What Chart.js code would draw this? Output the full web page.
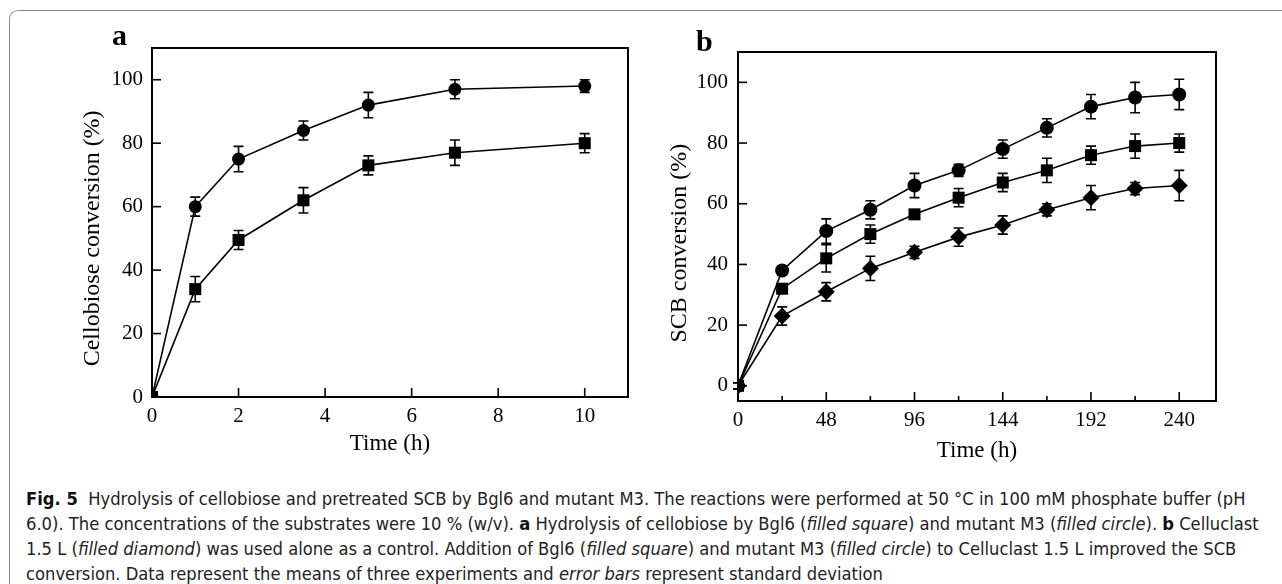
<!DOCTYPE html>
<html>
<head>
<meta charset="utf-8">
<script src="https://cdn.jsdelivr.net/npm/chart.js@4.4.1/dist/chart.umd.min.js"></script>
<style>
  html, body { margin:0; padding:0; background:#fff; width:1282px; height:584px; overflow:hidden; }
  #frame { position:absolute; left:9px; top:10px; width:1400px; height:700px; border-left:1.5px solid #8a8a8a; border-top:1.5px solid #8a8a8a; border-top-left-radius:9px; }
  .panel { position:absolute; top:0; }
  .plabel { position:absolute; font-family:"Liberation Serif", serif; font-weight:bold; font-size:30px; color:#000; }
  #caption { position:absolute; left:26px; top:486px; font-family:"Liberation Sans Narrow","DejaVu Sans Condensed",sans-serif; font-size:18.2px; line-height:25px; color:#222; white-space:nowrap; }
  #caption b { font-weight:bold; color:#111; }
</style>
</head>
<body>
<div id="frame"></div>
<div class="panel" style="left:0px;"><canvas id="ca" width="640" height="460" style="width:640px;height:460px;"></canvas></div>
<div class="panel" style="left:640px;"><canvas id="cb" width="642" height="470" style="width:642px;height:470px;"></canvas></div>
<div class="plabel" style="left:112px; top:18px;">a</div>
<div class="plabel" style="left:696px; top:24px;">b</div>
<div id="caption">
<div><b>Fig. 5</b>&nbsp; Hydrolysis of cellobiose and pretreated SCB by Bgl6 and mutant M3. The reactions were performed at 50 °C in 100 mM phosphate buffer (pH</div>
<div>6.0). The concentrations of the substrates were 10 % (w/v). <b>a</b> Hydrolysis of cellobiose by Bgl6 (<i>filled square</i>) and mutant M3 (<i>filled circle</i>). <b>b</b> Celluclast</div>
<div>1.5 L (<i>filled diamond</i>) was used alone as a control. Addition of Bgl6 (<i>filled square</i>) and mutant M3 (<i>filled circle</i>) to Celluclast 1.5 L improved the SCB</div>
<div>conversion. Data represent the means of three experiments and <i>error bars</i> represent standard deviation</div>
</div>
<script>
// ---- Panel a data ----
const timeA = [0, 1, 2, 3.5, 5, 7, 10];
const m3A = [0, 60, 75, 84, 92, 97, 98];
const m3AErr = [0, 3, 4, 3, 4, 3, 2];
const bgl6A = [0, 34, 49.5, 62, 73, 77, 80];
const bgl6AErr = [0, 4, 3, 4, 3, 4, 3];
const xTicksA = [0, 2, 4, 6, 8, 10];
const xLabelsA = ['0', '2', '4', '6', '8', '10'];
const yTicksA = [0, 20, 40, 60, 80, 100];
const yLabelsA = ['0', '20', '40', '60', '80', '100'];

// ---- Panel b data ----
const timeB = [0, 24, 48, 72, 96, 120, 144, 168, 192, 216, 240];
const m3B = [0, 38, 51, 58, 66, 71, 78, 85, 92, 95, 96];
const m3BErr = [1, 1.5, 4, 3, 4, 2, 3, 3, 4, 5, 5];
const bgl6B = [0, 32, 42, 50, 56.5, 62, 67, 71, 76, 79, 80];
const bgl6BErr = [1, 1.5, 4.5, 3, 1.5, 3, 3, 4, 3, 4, 3];
const cellB = [0, 23, 31, 38.7, 44, 49, 53, 58, 62, 65, 66];
const cellBErr = [1, 3, 3, 4, 2, 3, 3, 2, 4, 2, 5];
const xTicksB = [0, 24, 48, 72, 96, 120, 144, 168, 192, 216, 240];
const xLabelsB = ['0', '', '48', '', '96', '', '144', '', '192', '', '240'];
const yTicksB = [0, 20, 40, 60, 80, 100];
const yLabelsB = ['0', '20', '40', '60', '80', '100'];

const FONT = 'Liberation Serif';

function pts(xs, ys) { return xs.map((x, i) => ({ x: x, y: ys[i] })); }

function ds(xs, ys, errs, style, radius) {
  return {
    data: pts(xs, ys), errors: errs,
    borderColor: '#000', borderWidth: 1.6,
    pointStyle: style, pointRadius: radius, pointHoverRadius: radius,
    pointBackgroundColor: '#000', pointBorderColor: '#000', pointBorderWidth: 0,
    tension: 0, fill: false
  };
}

const errorBars = {
  id: 'errorBars',
  afterDatasetsDraw(chart) {
    const ctx = chart.ctx, ys = chart.scales.y;
    ctx.save();
    ctx.strokeStyle = '#000'; ctx.lineWidth = 1.6;
    chart.data.datasets.forEach((d, di) => {
      const meta = chart.getDatasetMeta(di);
      meta.data.forEach((el, i) => {
        const e = d.errors[i]; if (!e) return;
        const v = d.data[i].y;
        const y1 = ys.getPixelForValue(v + e), y2 = ys.getPixelForValue(v - e);
        const x = el.x, cap = 5;
        ctx.beginPath();
        ctx.moveTo(x, y1); ctx.lineTo(x, y2);
        ctx.moveTo(x - cap, y1); ctx.lineTo(x + cap, y1);
        ctx.moveTo(x - cap, y2); ctx.lineTo(x + cap, y2);
        ctx.stroke();
      });
    });
    ctx.restore();
  }
};

const frameTicks = {
  id: 'frameTicks',
  afterDraw(chart, args, opts) {
    const ctx = chart.ctx, a = chart.chartArea;
    const xs = chart.scales.x, ys = chart.scales.y;
    ctx.save();
    ctx.strokeStyle = '#000';
    ctx.lineWidth = 1.6;
    xs.ticks.forEach(t => {
      const px = xs.getPixelForValue(t.value);
      const len = (opts.xMajor && t.value % opts.xMajor !== 0) ? 5 : 9;
      ctx.beginPath(); ctx.moveTo(px, a.bottom); ctx.lineTo(px, a.bottom - len); ctx.stroke();
    });
    ys.ticks.forEach(t => {
      const py = ys.getPixelForValue(t.value);
      ctx.beginPath(); ctx.moveTo(a.left, py); ctx.lineTo(a.left + 9, py); ctx.stroke();
    });
    ctx.lineWidth = 2;
    ctx.strokeRect(a.left, a.top, a.right - a.left, a.bottom - a.top);
    // y-axis title
    ctx.fillStyle = '#000';
    ctx.font = '24px "' + FONT + '"';
    ctx.textAlign = 'center';
    ctx.textBaseline = 'middle';
    ctx.translate(opts.titleX, ys.getPixelForValue(opts.titleAt));
    ctx.rotate(-Math.PI / 2);
    ctx.fillText(opts.title, 0, 0);
    ctx.restore();
  }
};

function makeChart(id, datasets, cfg) {
  return new Chart(document.getElementById(id), {
    type: 'line',
    data: { datasets: datasets },
    plugins: [errorBars, frameTicks],
    options: {
      responsive: false, animation: false, events: [],
      layout: { padding: cfg.padding },
      plugins: { legend: { display: false }, tooltip: { enabled: false },
                 frameTicks: { xMajor: cfg.xMajor, title: cfg.yTitle, titleX: cfg.yTitleX, titleAt: cfg.yTitleAt } },
      scales: {
        x: {
          type: 'linear', min: cfg.xMin, max: cfg.xMax,
          grid: { display: false, drawTicks: false }, border: { display: false },
          afterBuildTicks: s => { s.ticks = cfg.xTicks.map(v => ({ value: v })); },
          afterFit: s => { s.height = cfg.xH; },
          ticks: { autoSkip: false, maxRotation: 0, padding: 7, color: '#000', font: { family: FONT, size: 21 },
                   callback: (v, i) => cfg.xLabels[i] },
          title: { display: true, text: 'Time (h)', color: '#000', font: { family: FONT, size: 23 }, padding: { top: 0, bottom: cfg.xTitlePad } }
        },
        y: {
          type: 'linear', min: cfg.yMin, max: cfg.yMax,
          grid: { display: false, drawTicks: false }, border: { display: false },
          afterBuildTicks: s => { s.ticks = cfg.yTicks.map(v => ({ value: v })); },
          afterFit: s => { s.width = cfg.yW; },
          ticks: { autoSkip: false, padding: cfg.yTickPad, color: '#000', font: { family: FONT, size: 21 },
                   callback: (v, i) => cfg.yLabels[i] },
          title: { display: false }
        }
      }
    }
  });
}

makeChart('ca', [
  ds(timeA, m3A, m3AErr, 'circle', 6.5),
  ds(timeA, bgl6A, bgl6AErr, 'rect', 8.5)
], {
  padding: { left: 0, top: 48, right: 12, bottom: 0 },
  xMin: 0, xMax: 11, yMin: 0, yMax: 110,
  xTicks: xTicksA, xLabels: xLabelsA, yTicks: yTicksA, yLabels: yLabelsA,
  xH: 63, yW: 152, yTickPad: 9, xTitlePad: 2,
  yTitle: 'Cellobiose conversion (%)', yTitleX: 93, yTitleAt: 50, xMajor: 0
});

makeChart('cb', [
  ds(timeB, m3B, m3BErr, 'circle', 7),
  ds(timeB, bgl6B, bgl6BErr, 'rect', 8.5),
  ds(timeB, cellB, cellBErr, 'rectRot', 8.5)
], {
  padding: { left: 0, top: 52, right: 66, bottom: 0 },
  xMin: 0, xMax: 260, yMin: -5, yMax: 110,
  xTicks: xTicksB, xLabels: xLabelsB, yTicks: yTicksB, yLabels: yLabelsB,
  xH: 69, yW: 98, yTickPad: 10, xTitlePad: 5,
  yTitle: 'SCB conversion (%)', yTitleX: 40, yTitleAt: 47, xMajor: 48
});
</script>
</body>
</html>
